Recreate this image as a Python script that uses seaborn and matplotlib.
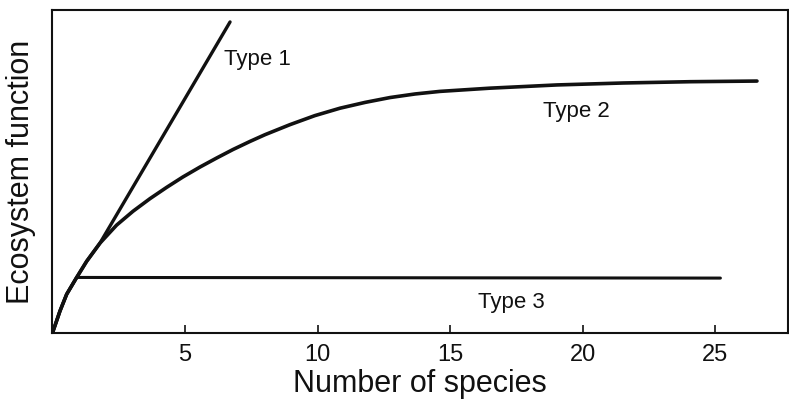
import seaborn as sns
import pandas as pd
import numpy as np
from matplotlib import pyplot as plt

# values (y is in relative units, 0-1 of the axis height)
start_x = [0.0, 0.283, 0.536, 0.913]
start_y = [0.0, 0.068, 0.120, 0.172]

# shared part up to where type 1 leaves type 2
common_x = start_x + [1.29, 1.79]
common_y = start_y + [0.222, 0.278]

type1_x = common_x + [6.70]
type1_y = common_y + [0.963]

type2_x = common_x + [2.42, 3.04, 3.68, 4.31, 4.92, 5.57, 6.20, 6.81, 7.45,
                      8.02, 8.96, 9.90, 10.85, 11.80, 12.74, 13.68, 14.62,
                      16.51, 19.04, 21.53, 24.06, 26.58]
type2_y = common_y + [0.334, 0.377, 0.416, 0.451, 0.483, 0.514, 0.542, 0.568,
                      0.593, 0.614, 0.645, 0.673, 0.696, 0.714, 0.729, 0.740,
                      0.748, 0.758, 0.768, 0.774, 0.778, 0.780]

type3_x = start_x + [25.2]
type3_y = start_y + [0.170]

xticks = [5, 10, 15, 20, 25]

sns.set_style("white")
plt.rcParams['font.family'] = ['Liberation Sans', 'DejaVu Sans']

fig = plt.figure(figsize=(7.89, 4.03), dpi=100)
ax = fig.add_axes([0.0665, 0.1737, 0.9322, 0.8015])

ink = '#111111'
sns.lineplot(x=type1_x, y=type1_y, ax=ax, color=ink, lw=2.4, sort=False)
sns.lineplot(x=type2_x, y=type2_y, ax=ax, color=ink, lw=2.6, sort=False)
sns.lineplot(x=type3_x, y=type3_y, ax=ax, color=ink, lw=2.2, sort=False)

fs = 17
ax.text(6.47, 0.830, 'Type 1', fontsize=fs - 1, va='baseline', ha='left', color=ink)
ax.text(18.51, 0.669, 'Type 2', fontsize=fs - 1, va='baseline', ha='left', color=ink)
ax.text(16.06, 0.077, 'Type 3', fontsize=fs - 1, va='baseline', ha='left', color=ink)

ax.set_xlim(0, 27.75)
ax.set_ylim(0, 1)
ax.set_xticks(xticks)
ax.set_xticklabels([str(t) for t in xticks])
ax.set_yticks([])
ax.tick_params(axis='x', direction='in', length=6, width=1.2, pad=8,
               labelsize=fs, colors=ink, bottom=True)

for s in ax.spines.values():
    s.set_color(ink)
    s.set_linewidth(1.5)

ax.set_xlabel('Number of species', fontsize=22, color=ink, labelpad=2)
ax.set_ylabel('Ecosystem function', fontsize=22, color=ink, labelpad=12)

fig.savefig('out.png', dpi=100)
